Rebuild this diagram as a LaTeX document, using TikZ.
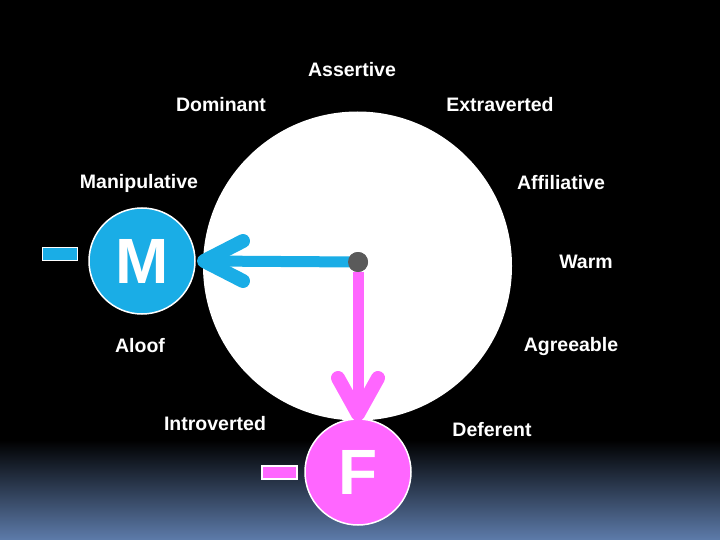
\documentclass[tikz,border=0pt]{standalone}
\usepackage{fontspec}
\setmainfont{Liberation Sans}
\definecolor{mblue}{HTML}{1AADE6}
\definecolor{fpink}{HTML}{FF66FF}
\definecolor{dotgray}{HTML}{5A5A5A}
\definecolor{steel}{HTML}{5D7BAA}
\begin{document}
\begin{tikzpicture}[x=1pt,y=-1pt,
  lbl/.style={text=white,font=\fontsize{19.5}{22}\selectfont\bfseries,inner sep=0pt},
  bigc/.style={circle,draw=white,line width=1.5pt,minimum size=106pt,inner sep=0pt,text=white,font=\fontsize{64}{64}\selectfont\bfseries},
  minus/.style={draw=white,line width=1.2pt,minimum width=35pt,minimum height=13pt,inner sep=0pt},
  shaft/.style={line width=11pt},
  chevron/.style={line width=14pt,line cap=round,line join=round}]
\useasboundingbox (0,0) rectangle (720,540);
\fill[black] (0,0) rectangle (720,540);
\shade[top color=black,bottom color=steel] (0,440) rectangle (720,540);
% white circle
\fill[white] (357.5,266) circle (154.5pt);
% labels
\node[lbl] (as) at (352,70) {Assertive};
\node[lbl] (dom) at (221,105) {Dominant};
\node[lbl] (ext) at (500,105) {Extraverted};
\node[lbl] (man) at (139,183) {Manipulative};
\node[lbl] (aff) at (561,183) {Affiliative};
\node[lbl] (warm) at (586,262) {Warm};
\node[lbl] (alo) at (140,346) {Aloof};
\node[lbl] (agr) at (571,346) {Agreeable};
\node[lbl] (intro) at (215,424) {Introverted};
\node[lbl] (def) at (492,430) {Deferent};
% big circles
\node[bigc,fill=mblue] (M) at (142,261) {M};
\node[bigc,fill=fpink] (F) at (358,472) {F};
\node[minus,fill=mblue] (mm) at (60,254) {};
\node[minus,fill=fpink] (fm) at (279.5,472.5) {};
% centre dot
\node[circle,fill=dotgray,minimum size=20pt,inner sep=0pt] (dot) at (358,262) {};
\coordinate (mtip) at (204,261);
\coordinate (ftip) at (358,414);
% blue arrow
\draw[mblue,shaft] (dot.center) -- (mtip);
\draw[mblue,chevron] (243,241) -- (mtip) -- (243,281);
% pink arrow
\draw[fpink,shaft] (dot.south) -- (ftip);
\draw[fpink,chevron] (338,378) -- (ftip) -- (378,378);
\node[circle,fill=dotgray,minimum size=20pt,inner sep=0pt] at (dot) {};
\end{tikzpicture}
\end{document}
